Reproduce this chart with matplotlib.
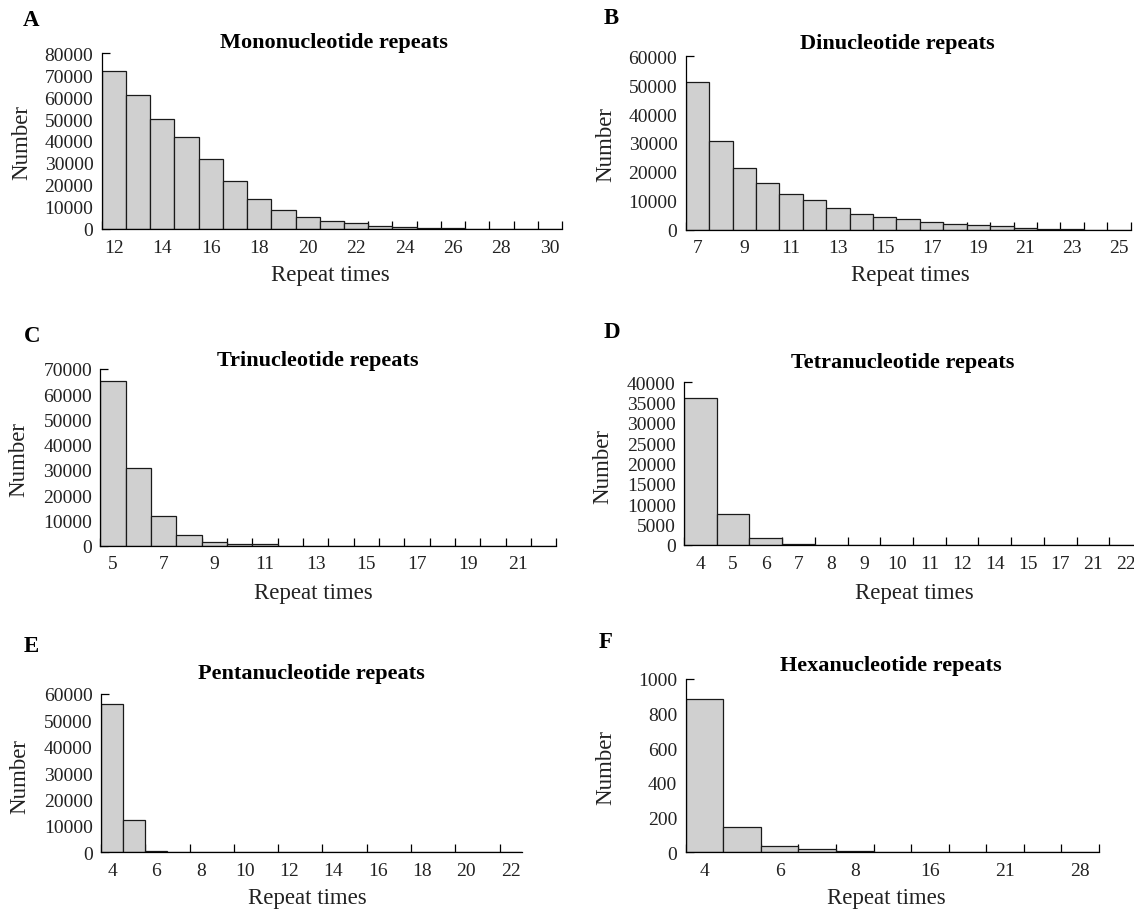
import matplotlib
matplotlib.use("Agg")

import matplotlib.pyplot as plt
from matplotlib.ticker import FixedLocator, MultipleLocator, FormatStrFormatter

W, H = 1134, 912

# ---- data ----
mono_cats = [str(v) for v in range(12, 31)]
mono_counts = [72000, 60700, 49800, 41800, 31700, 21600, 13600, 8800, 5300,
               3800, 2600, 1500, 1000, 500, 400, 0, 0, 0, 0]

di_cats = [str(v) for v in range(7, 26)]
di_counts = [51000, 30700, 21300, 16200, 12500, 10400, 7500, 5600, 4400,
             3600, 2700, 2000, 1600, 1200, 700, 350, 300, 0, 0]

tri_cats = [str(v) for v in range(5, 23)]
tri_counts = [65100, 30800, 11900, 4400, 1500, 660, 500,
              0, 0, 0, 0, 0, 0, 0, 0, 0, 0, 0]

tetra_cats = ["4", "5", "6", "7", "8", "9", "10", "11", "12", "14", "15",
              "17", "21", "22"]
tetra_counts = [36200, 7600, 1800, 330, 0, 0, 0, 0, 0, 0, 0, 0, 0, 0]

penta_cats = [str(v) for v in range(4, 23)]
penta_counts = [56200, 12100, 600, 0, 0, 0, 0, 0, 0, 0, 0, 0, 0, 0, 0, 0,
                0, 0, 0]

# hexa: only every other category is labelled in the source
hexa_cats = ["4", "", "6", "", "8", "", "16", "", "21", "", "28"]
hexa_counts = [885, 144, 38, 19, 10, 0, 0, 0, 0, 0, 0]

plt.rcParams["font.family"] = ["Liberation Serif", "DejaVu Serif"]

fig = plt.figure(figsize=(W / 100, H / 100), dpi=100)


def box(left, top, right, bottom):
    return [left / W, 1 - bottom / H, (right - left) / W, (bottom - top) / H]


def ftext(x, y, s, **kw):
    fig.text(x / W, 1 - y / H, s, ha="center", va="center", **kw)


def panel(rect, cats, counts, ymax, ystep, label_every=2, tick_every=1,
          end_tick=True):
    ax = fig.add_axes(rect)
    n = len(cats)
    ax.bar(range(n), counts, width=1.0, color="#d0d0d0",
           edgecolor="#1a1a1a", linewidth=0.9, zorder=2)
    ax.set_xlim(-0.5, n - 0.5)
    ax.set_ylim(0, ymax)
    ax.yaxis.set_major_locator(MultipleLocator(ystep))
    ax.yaxis.set_major_formatter(FormatStrFormatter("%d"))

    shown = list(range(0, n, label_every))
    ax.set_xticks(shown)
    ax.set_xticklabels([cats[i] for i in shown])
    # tick marks sit on the category boundaries, Excel style
    bounds = [k - 0.5 for k in range(0, n, tick_every)]
    if end_tick:
        bounds.append(n - 0.5)
    ax.xaxis.set_minor_locator(FixedLocator(bounds))

    ax.tick_params(axis="x", which="major", length=0, pad=7, labelsize=14,
                   labelcolor="#222222")
    ax.tick_params(axis="x", which="minor", direction="in", length=6,
                   width=0.9)
    ax.tick_params(axis="y", direction="in", length=6, width=0.9, pad=6,
                   labelsize=14, labelcolor="#222222")
    for side in ("top", "right"):
        ax.spines[side].set_visible(False)
    for side in ("left", "bottom"):
        ax.spines[side].set_linewidth(0.9)
    return ax


panels = [
    (box(101.7, 54, 562, 230), mono_cats, mono_counts, 80000, 10000,
     "Mononucleotide repeats", "A", 2, 1, True,
     (334, 43), (31, 21), (22, 143), (330, 276)),
    (box(685.7, 57.3, 1130.7, 230.7), di_cats, di_counts, 60000, 10000,
     "Dinucleotide repeats", "B", 2, 1, True,
     (897, 44), (611, 19), (606, 145), (910, 276)),
    (box(100.4, 370, 556.4, 546.7), tri_cats, tri_counts, 70000, 10000,
     "Trinucleotide repeats", "C", 2, 1, True,
     (318, 361), (32, 337), (19, 460), (313, 593)),
    (box(684, 383.3, 1142, 546), tetra_cats, tetra_counts, 40000, 5000,
     "Tetranucleotide repeats", "D", 1, 1, True,
     (903, 363), (612, 333), (603, 467), (914, 593)),
    (box(101, 695, 521.7, 853.3), penta_cats, penta_counts, 60000, 10000,
     "Pentanucleotide repeats", "E", 2, 2, False,
     (311, 674), (31, 647), (20, 777), (307, 899)),
    (box(685.6, 680, 1099, 853.3), hexa_cats, hexa_counts, 1000, 200,
     "Hexanucleotide repeats", "F", 2, 1, True,
     (891, 666), (606, 643), (606, 768), (886, 899)),
]

for (rect, cats, counts, ymax, ystep, title, letter, lab_ev, tick_ev, end,
     tpos, lpos, ypos, xpos) in panels:
    panel(rect, cats, counts, ymax, ystep, lab_ev, tick_ev, end)
    ftext(*tpos, title, fontsize=16, fontweight="bold")
    ftext(*lpos, letter, fontsize=16.5, fontweight="bold")
    ftext(*ypos, "Number", fontsize=16.5, rotation=90, color="#222222")
    ftext(*xpos, "Repeat times", fontsize=16.5, color="#222222")

fig.savefig("out.png", dpi=100)
